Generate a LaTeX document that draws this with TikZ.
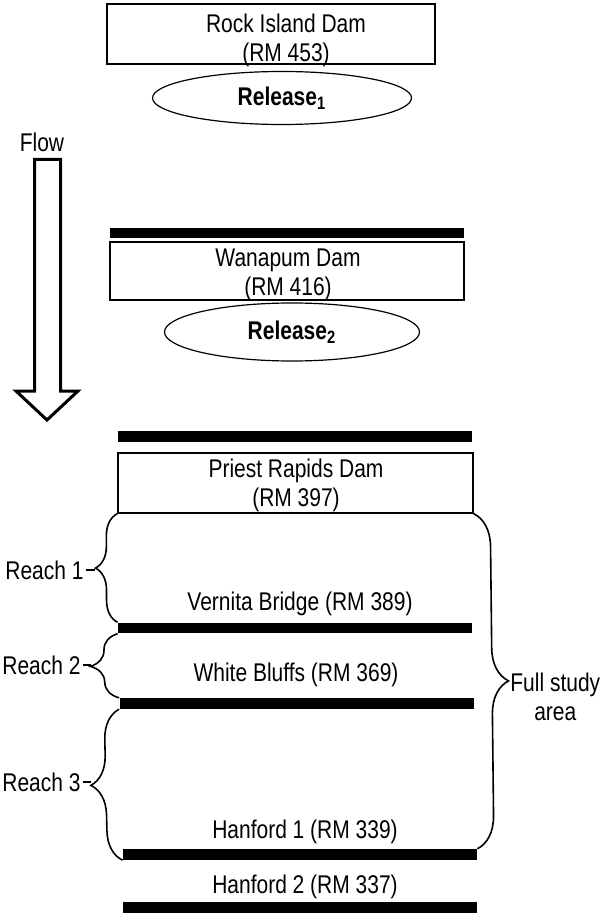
\documentclass[tikz,border=0pt]{standalone}
\usepackage{fontspec}
\setmainfont{Liberation Sans}[FakeStretch=0.82]
\usetikzlibrary{shapes.geometric,decorations.pathreplacing}
\begin{document}
\begin{tikzpicture}[x=0.5pt,y=-0.5pt,
        font=\fontsize{12.8}{14.5}\selectfont,
        dambox/.style={draw,line width=0.7pt,inner sep=0pt},
        damtext/.style={align=center,inner sep=0pt},
        release/.style={ellipse,draw,line width=0.6pt,inner sep=0pt},
        riverbar/.style={fill=black,inner sep=0pt,minimum width=177pt,minimum height=5.3pt},
        reachbrace/.style={decorate,decoration={brace,amplitude=#1},line width=0.8pt}]
        \useasboundingbox (0,0) rectangle (603,914);
        % dams upstream
        \node[dambox,minimum width=164pt,minimum height=30pt] (rock) at (271,34) {};
        \node[damtext] (rocklbl) at (286,40) {Rock Island Dam\\(RM 453)};
        \node[release,minimum width=129.5pt,minimum height=26.5pt] (rel1) at (282,98) {\textbf{Release}\textsubscript{\textbf{1}}};
        \node[riverbar] (wanabar) at (287,233) {};
        \node[dambox,minimum width=177pt,minimum height=29pt] (wana) at (287,271) {};
        \node[damtext] (wanalbl) at (288,275) {Wanapum Dam\\(RM 416)};
        \node[release,minimum width=127.5pt,minimum height=29pt] (rel2) at (292,332) {\textbf{Release}\textsubscript{\textbf{2}}};
        % flow arrow
        \node (flow) at (42,142) {Flow};
        \draw[line width=1.5pt] (34.5,159.5) -- (60.5,159.5) -- (60.5,391) -- (78,391) -- (47,420)
            -- (16,391) -- (34.5,391) -- cycle;
        % study area
        \node[riverbar] (pribar) at (295,436.5) {};
        \node[dambox,minimum width=177.5pt,minimum height=30pt] (priest) at (295.5,483) {};
        \node[damtext] (prilbl) at (296,485) {Priest Rapids Dam\\(RM 397)};
        \node (vtext) at (300,604) {Vernita Bridge (RM 389)};
        \node[riverbar] (vbar) at (295,628) {};
        \node (wtext) at (296,675) {White Bluffs (RM 369)};
        \node[riverbar] (wbar) at (296.5,703.5) {};
        \node (h1text) at (305,832) {Hanford 1 (RM 339)};
        \node[riverbar] (h1bar) at (300,854.5) {};
        \node (h2text) at (305,887) {Hanford 2 (RM 337)};
        \node[riverbar] (h2bar) at (300,907.5) {};
        % reaches
        \draw[reachbrace=11pt] (vbar.north west) -- (priest.south west);
        \draw[reachbrace=14pt] (wbar.north west) -- (vbar.south west);
        \draw[reachbrace=15pt] (h1bar.south west) -- (wbar.south west);
        \draw[reachbrace=16.5pt] (priest.south east) -- (h1bar.north east);
        \node[anchor=east,inner sep=1pt] (reach1) at (86,570) {Reach 1};
        \node[anchor=east,inner sep=1pt] (reach2) at (83,665) {Reach 2};
        \node[anchor=east,inner sep=1pt] (reach3) at (83,782) {Reach 3};
        \node[damtext,anchor=west] (full) at (510,697) {Full study\\area};
        \draw[line width=0.8pt] (reach1.east) -- ++(9,0);
        \draw[line width=0.8pt] (reach2.east) -- ++(8,0);
        \draw[line width=0.8pt] (reach3.east) -- ++(8,0);
    \end{tikzpicture}
\end{document}
